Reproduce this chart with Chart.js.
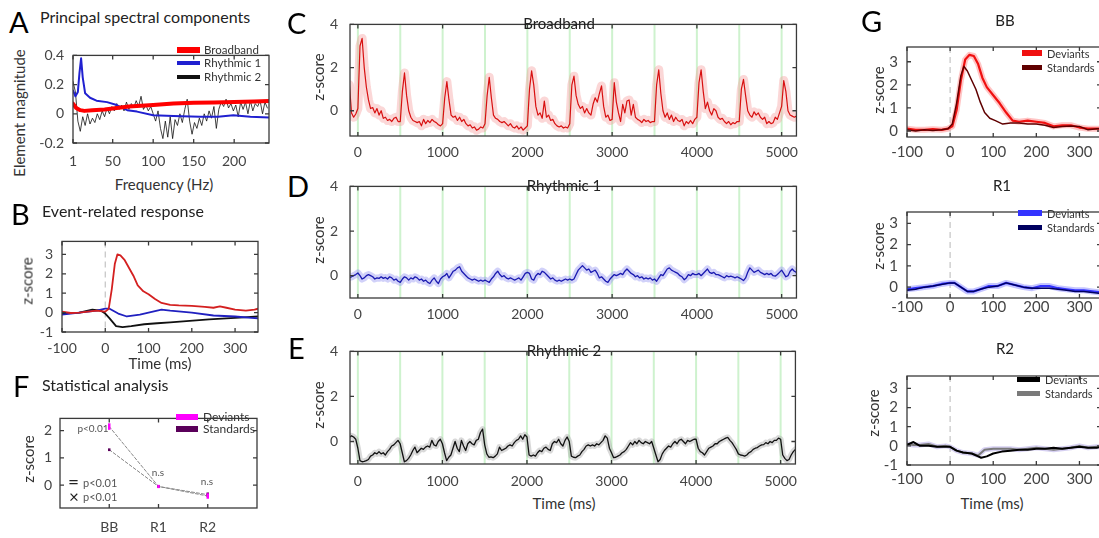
<!DOCTYPE html>
<html>
<head>
<meta charset="utf-8">
<script src="https://cdn.jsdelivr.net/npm/chart.js@4.4.1/dist/chart.umd.min.js"></script>
<style>
  body { margin: 0; width: 1099px; height: 538px; overflow: hidden; background: #fff; position: relative; font-family: Lato, sans-serif; }
  canvas { position: absolute; }
  .t { position: absolute; white-space: nowrap; line-height: 1; }
  .sw { position: absolute; }
</style>
</head>
<body>
<script>
// ---------- data ----------
// A: principal spectral components
const freqTicks = [1, 50, 100, 150, 200];
const weightTicks = [-0.2, 0, 0.2, 0.4];
const broadbandWeights = [[1,0.07],[5,0.04],[10,0.025],[15,0.02],[25,0.025],[40,0.03],[55,0.04],[70,0.05],[85,0.055],[100,0.06],[125,0.07],[150,0.075],[175,0.078],[200,0.08],[225,0.085],[243,0.088]];
const rhythmic1Weights = [[1,0.16],[4,0.12],[7,0.15],[9,0.28],[11,0.38],[13,0.25],[16,0.14],[22,0.11],[30,0.09],[43,0.08],[55,0.06],[68,0.025],[80,0.015],[100,-0.01],[125,-0.015],[158,-0.02],[180,-0.02],[199,-0.01],[220,-0.02],[243,-0.025]];
const rhythmic2FreqStart = 1, rhythmic2FreqStep = 3;
const rhythmic2Weights = [
  0.22, 0.15, -0.05, -0.12, -0.02, -0.08, 0.0, -0.07, -0.03, -0.06,
  0.0, -0.04, 0.02, -0.02, 0.04, 0.0, 0.05, 0.02, 0.07, 0.03,
  0.06, 0.02, 0.08, 0.03, 0.07, 0.04, 0.09, 0.05, 0.12, 0.03,
  0.06, 0.02, 0.05, 0.0, -0.05, 0.02, -0.1, -0.17, -0.05, -0.16,
  -0.02, -0.17, -0.04, -0.08, 0.0, -0.06, 0.03, 0.1, -0.05, -0.14,
  -0.06, -0.1, -0.03, -0.08, 0.0, -0.05, 0.02, -0.03, 0.05, -0.1,
  0.03, 0.08, 0.05, 0.1, 0.04, 0.07, 0.02, 0.06, -0.02, 0.08,
  0.03, 0.08, 0.0, 0.09, 0.02, 0.07, 0.05, 0.09, 0.0, 0.08,
  0.04
];

// B: event-related response
const erpTimeTicks = [-100, 0, 100, 200, 300];
const erpZTicks = [-1, 0, 1, 2, 3];
const erpBroadband = [[-100,0.05],[-80,-0.02],[-60,0.0],[-40,0.05],[-20,0.1],[0,0.05],[8,0.2],[15,1.2],[22,2.5],[28,3.0],[35,2.95],[45,2.7],[55,2.3],[65,1.9],[75,1.4],[88,1.1],[100,0.95],[115,0.7],[130,0.5],[150,0.4],[170,0.37],[200,0.35],[230,0.3],[250,0.25],[265,0.32],[280,0.25],[300,0.15],[325,0.1],[345,0.15],[353,0.2]];
const erpRhythmic1 = [[-100,-0.1],[-60,0.0],[-20,0.1],[0,0.2],[10,0.2],[30,-0.05],[50,-0.2],[80,-0.1],[110,0.05],[130,0.15],[150,0.1],[200,0.0],[250,-0.15],[300,-0.2],[353,-0.3]];
const erpRhythmic2 = [[-100,-0.05],[-60,0.0],[-30,0.15],[-10,0.1],[0,-0.05],[10,-0.3],[25,-0.7],[40,-0.75],[60,-0.7],[90,-0.6],[120,-0.55],[150,-0.5],[180,-0.45],[210,-0.4],[240,-0.35],[280,-0.3],[320,-0.25],[353,-0.2]];

// F: statistical analysis
const statCategories = ['BB', 'R1', 'R2'];
const statZTicks = [0, 1, 2];
const statDeviantMean = [2.15, -0.05, -0.4];
const statDeviantErr = [0.12, 0.06, 0.1];
const statStandardMean = [1.3, -0.05, -0.35];
const statStandardErr = [0.05, 0.05, 0.08];

// C, D, E: continuous traces (25 ms samples from -100 ms)
const stimOnsetsMs = [0, 500, 1000, 1500, 2000, 2500, 3000, 3500, 4000, 4500, 5000];
const traceTimeTicks = [0, 1000, 2000, 3000, 4000, 5000];
const traceZTicks = [0, 2, 4];
const traceStartMs = -100, traceStepMs = 25;
const broadbandTrace = [
  1.2, -0.1, -0.3, -0.15,
  0.1, 3.0, 3.35, 2.0, 1.1, 0.5, 0.1, 0.15, -0.1, 0.1, -0.2, 0.0, -0.35, -0.3, -0.45, -0.4, -0.5, -0.35, -0.3, -0.5,
  -0.5, 0.9, 1.75, 0.7, 0.0, -0.3, -0.45, -0.5, -0.55, -0.5, -0.7, -0.4, -0.6, -0.45, -0.55, -0.4, -0.5, -0.55, -0.65, -0.7,
  -0.6, 0.6, 1.35, 0.5, -0.2, -0.3, -0.25, -0.45, -0.3, -0.5, -0.4, -0.6, -0.7, -0.65, -0.8, -0.75, -0.9, -0.85, -0.75, -0.8,
  -0.6, 0.7, 1.55, 0.6, -0.2, -0.35, -0.4, -0.5, -0.55, -0.5, -0.6, -0.7, -0.6, -0.75, -0.8, -0.7, -0.85, -0.75, -0.9, -0.8,
  -0.7, 1.0, 1.85, 1.2, 0.2, -0.2, -0.1, -0.35, 0.45, -0.3, -0.2, -0.45, -0.4, -0.6, -0.7, -0.75, -0.7, -0.8, -0.75, -0.8,
  -0.6, 1.2, 1.6, 0.7, 0.3, 0.1, 0.2, -0.1, 0.1, -0.1, -0.2, 0.3, 0.6, 0.4, 0.8, 1.15, 0.2, -0.3, -0.2, -0.45,
  -0.4, 1.3, 0.4, -0.1, -0.5, 0.3, -0.1, 0.45, 0.5, -0.2, 0.3, -0.3, -0.4, -0.45, -0.55, -0.4, -0.5, -0.45, -0.55, -0.5,
  -0.5, 1.2, 1.9, 0.8, 0.0, -0.3, -0.1, -0.4, -0.2, -0.5, -0.3, -0.45, -0.5, -0.4, -0.7, -0.5, -0.6, -0.45, -0.6, -0.4,
  -0.3, 1.3, 1.9, 0.9, 0.1, 0.4, 0.0, -0.2, 0.1, 0.0, -0.3, -0.4, -0.35, -0.5, -0.6, -0.5, -0.65, -0.55, -0.6, -0.5,
  -0.5, 1.0, 1.45, 0.7, 0.0, -0.2, -0.3, -0.05, -0.2, -0.1, -0.3, -0.4, -0.3, -0.6, -0.5, -0.6, -0.55, -0.3, -0.4, -0.1,
  0.2, 1.4, 0.9, 0.0, -0.2, -0.25, -0.3, -0.25
];
const rhythmic1Trace = [
  -0.08, -0.05, 0.0, 0.05,
  0.12, 0.0, -0.15, -0.1, 0.0, 0.05, 0.0, -0.05, -0.15, -0.1, -0.12, -0.05, -0.12, -0.08, -0.15, -0.05, -0.1, -0.2, -0.15, -0.25,
  -0.3, -0.15, -0.05, -0.1, -0.2, -0.1, -0.15, -0.05, -0.1, -0.2, -0.15, -0.25, -0.2, -0.3, -0.35, -0.2, -0.1, -0.25, -0.35, -0.15,
  -0.05, 0.0, 0.1, -0.1, 0.05, 0.2, 0.25, 0.35, 0.4, 0.2, 0.1, 0.0, -0.1, -0.15, -0.2, -0.15, -0.2, -0.25, -0.2, -0.25,
  -0.2, -0.25, -0.3, -0.15, -0.05, 0.1, 0.2, 0.05, -0.05, 0.0, -0.1, -0.15, -0.1, -0.15, -0.2, -0.15, -0.1, -0.2, -0.05, 0.1,
  0.15, 0.1, -0.15, -0.2, 0.0, 0.1, 0.05, 0.2, 0.15, 0.05, -0.05, -0.15, -0.1, -0.2, -0.25, -0.2, -0.25, -0.2, -0.15, -0.2,
  -0.15, -0.2, -0.15, 0.05, 0.25, 0.35, 0.45, 0.35, 0.25, 0.3, 0.15, 0.2, 0.25, 0.1, -0.1, -0.05, -0.15, -0.25, -0.3, -0.15,
  -0.05, 0.05, 0.0, 0.05, 0.1, 0.05, 0.2, 0.3, 0.2, 0.1, 0.05, -0.05, 0.0, -0.1, -0.05, -0.15, -0.1, -0.15, -0.1, -0.2,
  -0.15, -0.25, -0.1, 0.05, 0.0, 0.15, 0.3, 0.35, 0.25, 0.2, 0.15, 0.1, 0.0, -0.05, -0.18, -0.1, 0.05, 0.0, 0.1, 0.05,
  0.05, 0.1, 0.0, 0.1, 0.2, 0.3, 0.15, 0.1, 0.15, 0.05, 0.05, 0.0, -0.05, -0.1, 0.0, -0.05, -0.02, -0.05, -0.1, -0.05,
  -0.1, -0.15, -0.22, -0.1, 0.15, 0.35, 0.25, 0.15, 0.2, 0.25, 0.15, 0.1, 0.05, 0.1, 0.05, 0.1, 0.0, -0.02, 0.05, 0.15,
  0.25, 0.1, -0.05, 0.0, 0.2, 0.3, 0.2, 0.15
];
const rhythmic2Trace = [
  0.18, 0.25, 0.2, 0.1,
  -0.3, -0.85, -0.9, -0.88, -0.85, -0.8, -0.65, -0.6, -0.5, -0.55, -0.45, -0.55, -0.5, -0.6, -0.45, -0.35, -0.2, -0.15, -0.05, 0.05,
  -0.1, -0.5, -0.9, -0.85, -0.75, -0.6, -0.4, -0.25, -0.5, -0.4, -0.3, -0.35, -0.25, -0.2, -0.25, 0.05, -0.15, -0.2, 0.0, 0.1,
  -0.1, -0.5, -0.85, -0.7, -0.6, -0.3, 0.0, -0.3, -0.45, 0.05, -0.2, -0.4, -0.1, 0.0, -0.1, -0.15, 0.05, 0.1, 0.4, 0.55,
  -0.15, -0.55, -0.7, -0.68, -0.72, -0.65, -0.55, -0.25, -0.4, -0.35, -0.3, -0.2, -0.15, -0.2, -0.05, 0.05, 0.1, 0.25, 0.1, 0.3,
  0.2, -0.6, -0.65, -0.6, -0.65, -0.5, -0.4, -0.45, -0.3, -0.25, -0.35, -0.4, -0.1, 0.0, -0.05, 0.1, -0.1, -0.2, 0.05, 0.2,
  0.0, -0.65, -0.7, -0.72, -0.65, -0.6, -0.45, -0.35, -0.2, -0.15, -0.2, -0.15, -0.2, -0.1, -0.15, -0.05, 0.05, 0.25, 0.15, -0.3,
  -0.5, -0.72, -0.7, -0.65, -0.6, -0.5, -0.45, -0.35, -0.2, -0.05, -0.15, 0.0, -0.1, 0.05, -0.05, -0.1, 0.0, -0.05, -0.1, 0.0,
  -0.3, -0.6, -0.9, -0.8, -0.55, -0.4, -0.3, -0.2, -0.25, -0.1, 0.0, -0.1, 0.05, 0.1, 0.0, -0.1, 0.05, 0.0, 0.05, 0.1,
  0.1, -0.3, -0.45, -0.5, -0.6, -0.45, -0.3, -0.25, -0.2, -0.1, -0.1, 0.0, 0.05, 0.1, 0.15, 0.18, 0.05, -0.05, -0.2, -0.35,
  -0.55, -0.6, -0.62, -0.65, -0.6, -0.5, -0.45, -0.35, -0.3, -0.27, -0.2, -0.15, -0.14, -0.05, -0.1, 0.0, -0.05, 0.05, 0.05, 0.15,
  0.1, -0.6, -0.75, -0.85, -0.8, -0.6, -0.45, -0.35
];

// G: deviants vs standards
const gTimeTicks = [-100, 0, 100, 200, 300];
const gZTicks = [0, 1, 2, 3];
const gZTicksR2 = [-1, 0, 1, 2, 3];
const bbDeviants = [[-100,0.1],[-80,0.05],[-60,0.05],[-40,0.08],[-20,0.05],[-5,0.1],[5,0.2],[15,0.9],[25,2.2],[35,3.1],[45,3.3],[55,3.25],[65,2.9],[75,2.3],[85,1.9],[100,1.55],[115,1.2],[130,0.8],[145,0.45],[160,0.4],[180,0.45],[200,0.4],[220,0.35],[240,0.2],[260,0.25],[280,0.25],[300,0.15],[320,0.1],[340,0.1],[350,0.1]];
const bbStandards = [[-100,0.05],[-80,0.0],[-60,0.05],[-40,0.02],[-20,0.05],[-5,0.1],[5,0.3],[15,1.2],[25,2.4],[32,2.8],[40,2.6],[50,2.2],[60,1.8],[70,1.25],[80,0.8],[92,0.55],[105,0.45],[122,0.3],[140,0.35],[160,0.35],[180,0.3],[200,0.3],[220,0.25],[240,0.15],[260,0.2],[280,0.22],[300,0.2],[320,0.05],[340,0.1],[350,0.1]];
const r1Deviants = [[-100,-0.1],[-80,-0.05],[-60,0.0],[-40,0.05],[-20,0.15],[0,0.2],[10,0.2],[25,0.0],[40,-0.2],[55,-0.2],[70,-0.1],[90,0.05],[110,0.05],[130,0.2],[150,0.1],[170,0.0],[190,-0.05],[210,0.05],[230,0.05],[250,-0.05],[270,-0.1],[290,-0.15],[310,-0.15],[330,-0.2],[350,-0.25]];
const r1Standards = [[-100,-0.15],[-80,-0.1],[-60,0.0],[-40,0.05],[-20,0.12],[0,0.2],[10,0.2],[25,0.0],[40,-0.2],[55,-0.2],[70,-0.1],[90,0.0],[110,0.05],[130,0.2],[150,0.1],[170,0.0],[190,-0.05],[210,-0.05],[230,-0.05],[250,-0.1],[270,-0.15],[290,-0.2],[310,-0.2],[330,-0.25],[350,-0.3]];
const r2Deviants = [[-100,0.05],[-85,0.2],[-70,0.0],[-50,0.0],[-30,-0.05],[-10,-0.05],[0,-0.05],[15,-0.25],[30,-0.35],[50,-0.4],[65,-0.55],[72,-0.62],[85,-0.55],[100,-0.4],[120,-0.3],[140,-0.25],[160,-0.2],[180,-0.2],[200,-0.15],[220,-0.15],[240,-0.1],[260,-0.15],[280,-0.1],[300,-0.05],[320,-0.1],[340,-0.1],[350,-0.05]];
const r2Standards = [[-100,0.1],[-85,0.05],[-70,0.05],[-50,0.1],[-30,-0.05],[-10,0.0],[0,-0.05],[15,-0.25],[30,-0.35],[50,-0.4],[65,-0.5],[80,-0.2],[100,-0.15],[120,-0.15],[140,-0.15],[160,-0.2],[180,-0.15],[200,-0.1],[220,-0.15],[240,-0.2],[260,-0.15],[280,-0.1],[300,0.0],[320,-0.1],[340,-0.05],[350,-0.05]];

// ---------- helpers ----------
Chart.defaults.font.family = 'Lato';
const pts = arr => arr.map(p => ({ x: p[0], y: p[1] }));
const trace = (arr, t0, dt) => arr.map((v, i) => ({ x: t0 + i * dt, y: v }));

function line(data, color, width, extra) {
  return Object.assign({ data, borderColor: color, borderWidth: width, pointRadius: 0, fill: false,
    borderJoinStyle: 'round', borderCapStyle: 'round' }, extra || {});
}

function framePlugin() {
  return { id: 'frame', afterDraw(ch) {
    const { ctx, chartArea: a, scales: { x, y } } = ch;
    ctx.save();
    ctx.strokeStyle = '#3a3a3a'; ctx.lineWidth = 1.3;
    ctx.beginPath();
    x.ticks.forEach(t => {
      const p = x.getPixelForValue(t.value);
      ctx.moveTo(p, a.bottom); ctx.lineTo(p, a.bottom - 4);
      ctx.moveTo(p, a.top); ctx.lineTo(p, a.top + 4);
    });
    y.ticks.forEach(t => {
      const p = y.getPixelForValue(t.value);
      ctx.moveTo(a.left, p); ctx.lineTo(a.left + 4, p);
      ctx.moveTo(a.right, p); ctx.lineTo(a.right - 4, p);
    });
    ctx.stroke();
    ctx.strokeRect(a.left, a.top, a.right - a.left, a.bottom - a.top);
    ctx.restore();
  }};
}

function vlinePlugin(values, color, width, dash) {
  return { id: 'vlines', beforeDatasetsDraw(ch) {
    const { ctx, chartArea: a, scales: { x } } = ch;
    ctx.save();
    ctx.strokeStyle = color; ctx.lineWidth = width; ctx.setLineDash(dash || []);
    values.forEach(v => {
      const p = x.getPixelForValue(v);
      ctx.beginPath(); ctx.moveTo(p, a.top); ctx.lineTo(p, a.bottom); ctx.stroke();
    });
    ctx.restore();
  }};
}

function errPlugin(sets) {
  return { id: 'errbars', afterDatasetsDraw(ch) {
    const { ctx, scales: { x, y } } = ch;
    ctx.save();
    sets.forEach(s => {
      ctx.strokeStyle = s.color; ctx.lineWidth = 2.5;
      s.mean.forEach((m, i) => {
        const px = x.getPixelForValue(i + 1);
        ctx.beginPath();
        ctx.moveTo(px, y.getPixelForValue(m - s.err[i]));
        ctx.lineTo(px, y.getPixelForValue(m + s.err[i]));
        ctx.stroke();
      });
    });
    ctx.restore();
  }};
}

function axis(s, dir, size) {
  return {
    type: 'linear', min: s.min, max: s.max,
    grid: { display: false, drawTicks: false }, border: { display: false },
    afterBuildTicks: sc => { sc.ticks = s.ticks.map(v => ({ value: v })); },
    afterFit: sc => { if (dir === 'x') sc.height = size; else sc.width = size; },
    ticks: { padding: s.pad, color: '#444', font: { size: s.fs || 14 }, autoSkip: false, maxRotation: 0,
      callback: s.fmt || (v => String(v)) }
  };
}

function makeChart(box, m, xs, ys, datasets, plugins) {
  const c = document.createElement('canvas');
  const w = box.r - box.l + m.l + m.r, h = box.b - box.t + m.t + m.b;
  c.width = w; c.height = h;
  c.style.left = (box.l - m.l) + 'px'; c.style.top = (box.t - m.t) + 'px';
  c.style.width = w + 'px'; c.style.height = h + 'px';
  document.body.appendChild(c);
  return new Chart(c, {
    type: 'line',
    data: { datasets },
    options: {
      responsive: false, animation: false, events: [],
      layout: { autoPadding: false, padding: { top: m.t, right: m.r, left: 0, bottom: 0 } },
      plugins: { legend: { display: false }, tooltip: { enabled: false } },
      scales: { x: axis(xs, 'x', m.b), y: axis(ys, 'y', m.l) }
    },
    plugins: [framePlugin()].concat(plugins || [])
  });
}

function txt(s, x, y, o) {
  o = o || {};
  const d = document.createElement('div');
  d.className = 't'; d.textContent = s;
  d.style.left = x + 'px'; d.style.top = y + 'px';
  d.style.fontSize = (o.size || 15) + 'px';
  d.style.color = o.color || '#333';
  d.style.transform = 'translate(' + (o.left ? '0' : '-50%') + ',-50%)' + (o.rot ? ' rotate(-90deg)' : '');
  document.body.appendChild(d);
}

function swatch(x1, x2, y, h, color) {
  const d = document.createElement('div');
  d.className = 'sw';
  d.style.left = x1 + 'px'; d.style.top = (y - h / 2) + 'px';
  d.style.width = (x2 - x1) + 'px'; d.style.height = h + 'px';
  d.style.background = color;
  document.body.appendChild(d);
}

// ---------- A ----------
makeChart({ l: 73, t: 42, r: 269, b: 143 }, { l: 40, r: 4, t: 4, b: 26 },
  { min: 1, max: 243, ticks: freqTicks, pad: 10 },
  { min: -0.2, max: 0.4, ticks: weightTicks, pad: 9 },
  [
    line(pts(broadbandWeights), '#ff0000', 4),
    line(pts(rhythmic1Weights), '#2020d0', 2),
    line(trace(rhythmic2Weights, rhythmic2FreqStart, rhythmic2FreqStep), '#111', 0.8)
  ]);
txt('A', 9, 21, { size: 29, color: '#000', left: true });
txt('Principal spectral components', 40, 17, { size: 16, color: '#222', left: true });
txt('Element magnitude', 19, 113, { rot: true, color: '#333' });
txt('Frequency (Hz)', 164, 184, { color: '#333' });
swatch(177, 200, 50, 6, '#ff0000'); txt('Broadband', 204, 50, { size: 11.5, left: true });
swatch(177, 200, 63, 4, '#2020d0'); txt('Rhythmic 1', 204, 63, { size: 11.5, left: true });
swatch(177, 200, 77, 4, '#111'); txt('Rhythmic 2', 204, 77, { size: 11.5, left: true });

// ---------- B ----------
makeChart({ l: 62, t: 228, r: 258, b: 332 }, { l: 40, r: 4, t: 4, b: 26 },
  { min: -100, max: 353, ticks: erpTimeTicks, pad: 8 },
  { min: -1, max: 3.67, ticks: erpZTicks, pad: 9 },
  [
    line(pts(erpBroadband), '#d42020', 1.8),
    line(pts(erpRhythmic1), '#2020c0', 1.8),
    line(pts(erpRhythmic2), '#111', 1.8)
  ],
  [vlinePlugin([0], '#c4c4c4', 1.2, [6, 4])]);
txt('B', 11, 213, { size: 29, color: '#000', left: true });
txt('Event-related response', 42, 211, { size: 16, color: '#222', left: true });
txt('z-score', 27, 281, { rot: true });
txt('Time (ms)', 160, 363);

// ---------- F ----------
makeChart({ l: 60, t: 406, r: 257, b: 508 }, { l: 40, r: 4, t: 4, b: 28 },
  { min: 0, max: 4, ticks: [1, 2, 3], pad: 11, fmt: v => statCategories[v - 1] },
  { min: -0.84, max: 2.45, ticks: statZTicks, pad: 8 },
  [
    line(statDeviantMean.map((v, i) => ({ x: i + 1, y: v })), '#888', 1, { borderDash: [3, 2] }),
    line(statStandardMean.map((v, i) => ({ x: i + 1, y: v })), '#888', 1, { borderDash: [3, 2] })
  ],
  [errPlugin([
    { mean: statStandardMean, err: statStandardErr, color: '#5a005a' },
    { mean: statDeviantMean, err: statDeviantErr, color: '#ff00ff' }
  ])]);
txt('F', 13, 385, { size: 29, color: '#000', left: true });
txt('Statistical analysis', 42, 385, { size: 16, color: '#222', left: true });
txt('z-score', 28, 459, { rot: true });
swatch(176, 198, 417, 6, '#ff00ff'); txt('Deviants', 203, 417, { size: 12, left: true });
swatch(176, 198, 429, 6, '#5a005a'); txt('Standards', 203, 429, { size: 12, left: true });
txt('p<0.01', 93, 428, { size: 10, color: '#555' });
txt('n.s', 158, 472, { size: 10, color: '#555' });
txt('n.s', 207, 481, { size: 10, color: '#555' });
txt('=', 68, 481, { size: 19, color: '#222', left: true });
txt('p<0.01', 83, 482, { size: 11, color: '#555', left: true });
txt('×', 69, 496, { size: 17, color: '#222', left: true });
txt('p<0.01', 83, 496, { size: 11, color: '#555', left: true });

// ---------- C, D, E ----------
const green = vlinePlugin.bind(null, stimOnsetsMs, 'rgba(185,236,185,0.7)', 2);
const traceX = { min: -93, max: 5175, ticks: traceTimeTicks, pad: 8 };
makeChart({ l: 350, t: 8, r: 802, b: 136 }, { l: 40, r: 4, t: 4, b: 26 },
  traceX, { min: -1.17, max: 4, ticks: traceZTicks, pad: 12 },
  [
    line(trace(broadbandTrace, traceStartMs, traceStepMs), '#d81010', 1.2),
    line(trace(broadbandTrace, traceStartMs, traceStepMs), 'rgba(245,150,150,0.38)', 9)
  ], [green()]);
makeChart({ l: 350, t: 170, r: 802, b: 298 }, { l: 40, r: 4, t: 4, b: 26 },
  traceX, { min: -1, max: 4, ticks: traceZTicks, pad: 12 },
  [
    line(trace(rhythmic1Trace, traceStartMs, traceStepMs), '#1a1ab0', 1.3),
    line(trace(rhythmic1Trace, traceStartMs, traceStepMs), 'rgba(140,140,240,0.4)', 7)
  ], [green()]);
makeChart({ l: 350, t: 335, r: 802, b: 464 }, { l: 40, r: 4, t: 4, b: 26 },
  { min: -93, max: 5175, ticks: traceTimeTicks, pad: 9 }, { min: -1, max: 4, ticks: traceZTicks, pad: 12 },
  [
    line(trace(rhythmic2Trace, traceStartMs, traceStepMs), '#111', 1.3),
    line(trace(rhythmic2Trace, traceStartMs, traceStepMs), 'rgba(160,160,160,0.4)', 6)
  ], [green()]);
txt('C', 287, 22, { size: 29, color: '#000', left: true });
txt('D', 287, 185, { size: 29, color: '#000', left: true });
txt('E', 288, 347, { size: 29, color: '#000', left: true });
txt('z-score', 318, 77, { rot: true });
txt('z-score', 318, 240, { rot: true });
txt('z-score', 318, 405, { rot: true });
txt('Broadband', 559, 23, { color: '#222' });
txt('Rhythmic 1', 564, 185, { color: '#222' });
txt('Rhythmic 2', 564, 350, { color: '#222' });
txt('Time (ms)', 564, 503);

// ---------- G ----------
const zero = () => vlinePlugin([0], '#c4c4c4', 1.2, [6, 4]);
const gX = { min: -100, max: 350, ticks: gTimeTicks, pad: 6, fs: 15 };
makeChart({ l: 907, t: 33, r: 1101, b: 137 }, { l: 40, r: 4, t: 4, b: 26 },
  gX, { min: -0.26, max: 3.64, ticks: gZTicks, pad: 9, fs: 15 },
  [
    line(pts(bbStandards), '#600000', 1.5),
    line(pts(bbDeviants), '#f01010', 2.2),
    line(pts(bbDeviants), 'rgba(255,150,150,0.55)', 6)
  ], [zero()]);
makeChart({ l: 907, t: 198, r: 1101, b: 298 }, { l: 40, r: 4, t: 4, b: 26 },
  { min: -100, max: 350, ticks: gTimeTicks, pad: 0, fs: 15 }, { min: -0.51, max: 3.53, ticks: gZTicks, pad: 9, fs: 15 },
  [
    line(pts(r1Standards), '#000060', 1.5),
    line(pts(r1Deviants), '#3333ff', 2.2),
    line(pts(r1Deviants), 'rgba(150,150,255,0.55)', 6)
  ], [zero()]);
makeChart({ l: 907, t: 362, r: 1101, b: 465 }, { l: 40, r: 4, t: 4, b: 26 },
  { min: -100, max: 350, ticks: gTimeTicks, pad: 5, fs: 15 }, { min: -1, max: 3.65, ticks: gZTicksR2, pad: 9, fs: 15 },
  [
    line(pts(r2Deviants), '#000', 2),
    line(pts(r2Standards), '#7a7a7a', 2),
    line(pts(r2Standards), 'rgba(180,170,230,0.55)', 5)
  ], [zero()]);
txt('G', 861, 20, { size: 29, color: '#000', left: true });
txt('BB', 1005, 20, { color: '#222' });
txt('R1', 1002, 185, { color: '#222' });
txt('R2', 1005, 348, { color: '#222' });
txt('z-score', 878, 90, { rot: true });
txt('z-score', 878, 246, { rot: true });
txt('z-score', 873, 413, { rot: true });
txt('Time (ms)', 992, 503);
swatch(1022, 1042, 53, 6, '#f01010'); txt('Deviants', 1047, 53, { size: 11, left: true });
swatch(1022, 1042, 67, 5, '#600000'); txt('Standards', 1047, 67, { size: 11, left: true });
swatch(1018, 1042, 213, 6, '#3333ff'); txt('Deviants', 1047, 213, { size: 11, left: true });
swatch(1018, 1042, 227, 5, '#000060'); txt('Standards', 1047, 227, { size: 11, left: true });
swatch(1017, 1040, 379, 5, '#000'); txt('Deviants', 1045, 379, { size: 11, left: true });
swatch(1017, 1040, 393, 5, '#7a7a7a'); txt('Standards', 1045, 393, { size: 11, left: true });
</script>
</body>
</html>
